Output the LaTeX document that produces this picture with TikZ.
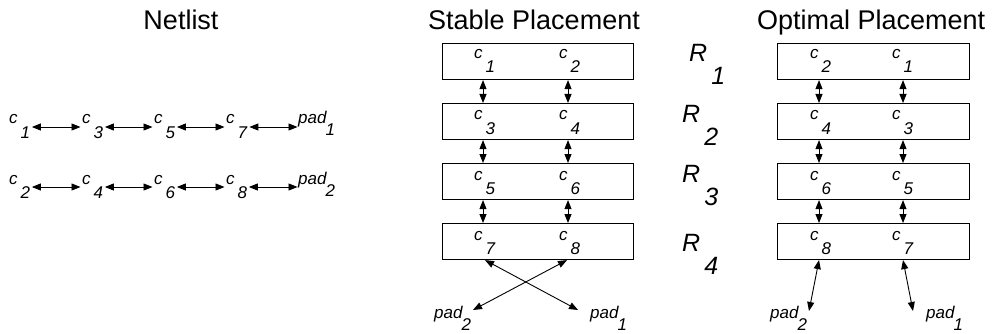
\documentclass[tikz,border=0pt]{standalone}
\usepackage{fontspec}
\setmainfont{Liberation Sans}
\usetikzlibrary{arrows.meta}

% cell, pad and row names with a dropped index
\newcommand{\cellname}[1]{\textit{c}\kern3pt\raisebox{-14pt}{\textit{#1}}}
\newcommand{\padname}[1]{\textit{pad}\kern-1.5pt\raisebox{-12pt}{\textit{#1}}}
\newcommand{\rowname}[1]{\textit{R}\kern4pt\raisebox{-23pt}{\textit{#1}}}

\begin{document}
\begin{tikzpicture}[x=1pt,y=-1pt,
  lab/.style={inner sep=0pt, font=\fontsize{17}{17}\selectfont, anchor=base west},
  ttl/.style={inner sep=0pt, font=\fontsize{27}{27}\selectfont},
  rlab/.style={inner sep=0pt, font=\fontsize{25}{25}\selectfont, anchor=base west},
  rowbox/.style={draw, line width=1.1pt, minimum width=191pt, minimum height=36pt,
                 inner sep=0pt, anchor=north west},
  link/.style={line width=0.9pt,
               {Triangle[length=9pt,width=7pt]}-{Triangle[length=9pt,width=7pt]}},
]
\useasboundingbox (0,0) rectangle (1000,334);

% titles
\node[ttl, anchor=base] (tN) at (181,30) {Netlist};
\node[ttl, anchor=base west] (tS) at (428,30) {Stable Placement};
\node[ttl, anchor=base west] (tO) at (757,30) {Optimal Placement};

% ---------------- netlist ----------------
\node[lab] (n1) at (9,124) {\cellname{1}};
\node[lab] (n3) at (82,124) {\cellname{3}};
\node[lab] (n5) at (154,124) {\cellname{5}};
\node[lab] (n7) at (226,124) {\cellname{7}};
\node[lab] (np1) at (298,124) {\padname{1}};
\node[lab] (n2) at (9,184) {\cellname{2}};
\node[lab] (n4) at (82,184) {\cellname{4}};
\node[lab] (n6) at (154,184) {\cellname{6}};
\node[lab] (n8) at (226,184) {\cellname{8}};
\node[lab] (np2) at (298,184) {\padname{2}};

\foreach \a/\b in {n1/n3,n3/n5,n5/n7,n2/n4,n4/n6,n6/n8}
  \draw[link] ([shift={(1.5pt,-3pt)}]\a.base east) -- ([shift={(-1.5pt,-3pt)}]\b.base west);
\draw[link] ([shift={(1.5pt,-3pt)}]n7.base east) -- ([shift={(-0.5pt,-3pt)}]np1.base west);
\draw[link] ([shift={(1.5pt,-3pt)}]n8.base east) -- ([shift={(-0.5pt,-3pt)}]np2.base west);

% ---------------- rows ----------------
\foreach \i/\t in {1/43,2/103,3/163,4/223}{
  \node[rowbox] (s\i) at (442,\t) {};
  \node[rowbox, minimum width=192pt] (o\i) at (777,\t) {};
}

% column positions
\coordinate (sA) at (483,0);
\coordinate (sB) at (568,0);
\coordinate (oA) at (819,0);
\coordinate (oB) at (903,0);

% stable placement cells
\foreach \r/\t/\p/\q in {1/59/1/2,2/120/3/4,3/180/5/6,4/240/7/8}{
  \node[lab] (sc\p) at (474,\t) {\cellname{\p}};
  \node[lab] (sc\q) at (559,\t) {\cellname{\q}};
}
% optimal placement cells
\foreach \r/\t/\p/\q in {1/59/2/1,2/120/4/3,3/180/6/5,4/240/8/7}{
  \node[lab] (oc\p) at (810,\t) {\cellname{\p}};
  \node[lab] (oc\q) at (892,\t) {\cellname{\q}};
}

% row names
\node[rlab] (R1) at (689,62) {\rowname{1}};
\node[rlab] (R2) at (682,122) {\rowname{2}};
\node[rlab] (R3) at (682,182) {\rowname{3}};
\node[rlab] (R4) at (682,251) {\rowname{4}};

% links between rows
\foreach \u/\v in {1/2,2/3,3/4}{
  \draw[link] (sA |- s\u.south) -- (sA |- s\v.north);
  \draw[link] (sB |- s\u.south) -- (sB |- s\v.north);
  \draw[link] (oA |- o\u.south) -- (oA |- o\v.north);
  \draw[link] (oB |- o\u.south) -- (oB |- o\v.north);
}

% pads
\node[lab] (sp2) at (434,318) {\padname{2}};
\node[lab] (sp1) at (590,318) {\padname{1}};
\node[lab] (op2) at (770,318) {\padname{2}};
\node[lab] (op1) at (926,318) {\padname{1}};

\coordinate (sq2) at (473,310);
\coordinate (sq1) at (578,310);
\coordinate (oq2) at (809,311);
\coordinate (oq1) at (913,311);

\draw[link] ([xshift=2pt]sA |- s4.south) -- (sq1);
\draw[link] ([xshift=-1pt]sB |- s4.south) -- (sq2);
\draw[link] (oA |- o4.south) -- (oq2);
\draw[link] (oB |- o4.south) -- (oq1);

\end{tikzpicture}
\end{document}
